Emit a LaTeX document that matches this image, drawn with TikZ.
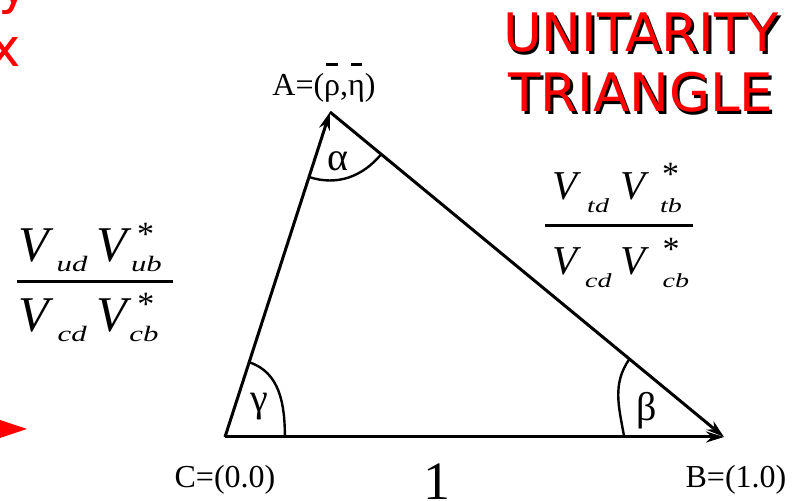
\documentclass[tikz,border=0pt]{standalone}
\usepackage{fontspec}
\setmainfont{Liberation Serif}
\newfontfamily\titlefont{DejaVu Sans}
\usetikzlibrary{arrows.meta, positioning, calc}
\definecolor{titlered}{HTML}{FF0000}
\newcommand{\obar}[1]{{\ooalign{#1\cr\hidewidth\rule[0.95em]{0.36em}{0.07em}\hidewidth\cr}}}
\newcommand{\ckmV}[1]{{\fontsize{#1}{#1}\selectfont\itshape V}}
\newcommand{\ckmsub}[3]{\raisebox{-#2pt}{\scalebox{1.4}[1]{\fontsize{#1}{#1}\selectfont\itshape #3}}}
\newcommand{\ckmstar}[3]{\makebox[0pt][l]{\hspace{#2pt}\raisebox{#3pt}{\fontsize{34}{34}\selectfont *}}}

\begin{document}
\begin{tikzpicture}[
  x=1pt, y=1pt,
  side/.style={line width=3pt, -{Stealth[length=18pt, width=11pt]}},
  anglearc/.style={line width=2.4pt},
  lbl/.style={font=\fontsize{32}{32}\selectfont, inner sep=0pt},
  greek/.style={font=\fontsize{40}{40}\selectfont, inner sep=0pt},
  ckm/.style={inner sep=0pt, anchor=base west},
  fracbar/.style={fill=black, inner sep=0pt, minimum height=3pt},
  title/.style={font=\titlefont\fontsize{53}{60}\selectfont, text=titlered,
    align=center, inner sep=0pt, anchor=north},
  cutletter/.style={font=\titlefont\fontsize{53}{53}\selectfont, text=titlered,
    inner sep=0pt, anchor=base},
]
\useasboundingbox (0,0) rectangle (796,501);
\clip (0,0) rectangle (796,501);

% Vertices of the triangle
\coordinate (C) at (225,64);
\coordinate (A) at (330,389);
\coordinate (B) at (724,64);

% Angle arcs
\coordinate (gammaB) at ($(C)!0.12!(B)$);
\coordinate (gammaA) at ($(C)!0.23!(A)$);
\coordinate (alphaC) at ($(A)!0.2!(C)$);
\coordinate (alphaB) at ($(A)!0.13!(B)$);
\coordinate (betaC) at ($(B)!0.2!(C)$);
\coordinate (betaA) at ($(B)!0.24!(A)$);
\draw[anglearc] (gammaB) to[out=90, in=-18] (gammaA);
\draw[anglearc] (alphaC) to[out=-18, in=-130] (alphaB);
\draw[anglearc] (betaC) to[out=100, in=-125] (betaA);

% Sides
\draw[side] (C) -- (A);
\draw[side] (A) -- (B);
\draw[side] (C) -- (B);

% Vertex and angle labels
\node[lbl, above=9pt of A, xshift=-6pt] (Alabel) {A=(\obar{ρ},\obar{η})};
\node[lbl, below=28pt of C] (Clabel) {C=(0.0)};
\node[lbl, below=28pt of B, xshift=12pt] (Blabel) {B=(1.0)};
\node[lbl, font=\fontsize{54}{54}\selectfont, anchor=north] (unit) at (437,37) {1};
\node[greek] (alpha) at (338,340) {α};
\node[greek] (gamma) at (259,94) {γ};
\node[greek] (beta) at (647,90) {β};

% Side ratios
\node[fracbar, minimum width=156pt] (lbar) at (95,219) {};
\node[ckm] (lnum) at (18,239)
  {\ckmV{50}\hspace{8pt}\ckmsub{22}{10}{ud}\hspace{9pt}\ckmV{50}\ckmstar{}{10}{16}\hspace{4pt}\ckmsub{22}{10}{ub}};
\node[ckm] (lden) at (18,169)
  {\ckmV{50}\hspace{9pt}\ckmsub{22}{10}{cd}\hspace{10pt}\ckmV{50}\ckmstar{}{10}{16}\hspace{2pt}\ckmsub{22}{10}{cb}};
\node[fracbar, minimum width=148pt] (rbar) at (619,275) {};
\node[ckm] (rnum) at (552,301)
  {\ckmV{41}\hspace{10pt}\ckmsub{20}{13}{td}\hspace{11pt}\ckmV{41}\ckmstar{}{17}{14}\hspace{15pt}\ckmsub{20}{13}{tb}};
\node[ckm] (rden) at (552,226)
  {\ckmV{41}\hspace{8pt}\ckmsub{20}{13}{cd}\hspace{9pt}\ckmV{41}\ckmstar{}{17}{14}\hspace{17pt}\ckmsub{20}{13}{cb}};

% Title with shadow
\node[title, text=black] (titleshadow) at (643.5,485.5) {UNITARITY\\TRIANGLE};
\node[title] (titletext) at (641,488) {UNITARITY\\TRIANGLE};

% Cut-off red marks at the left edge
\node[cutletter] (ycut) at (14,497) {y};
\node[cutletter] (xcut) at (5,434) {x};
\fill[titlered] (-6,83) -- (27,72) -- (-6,61) -- cycle;
\end{tikzpicture}
\end{document}
